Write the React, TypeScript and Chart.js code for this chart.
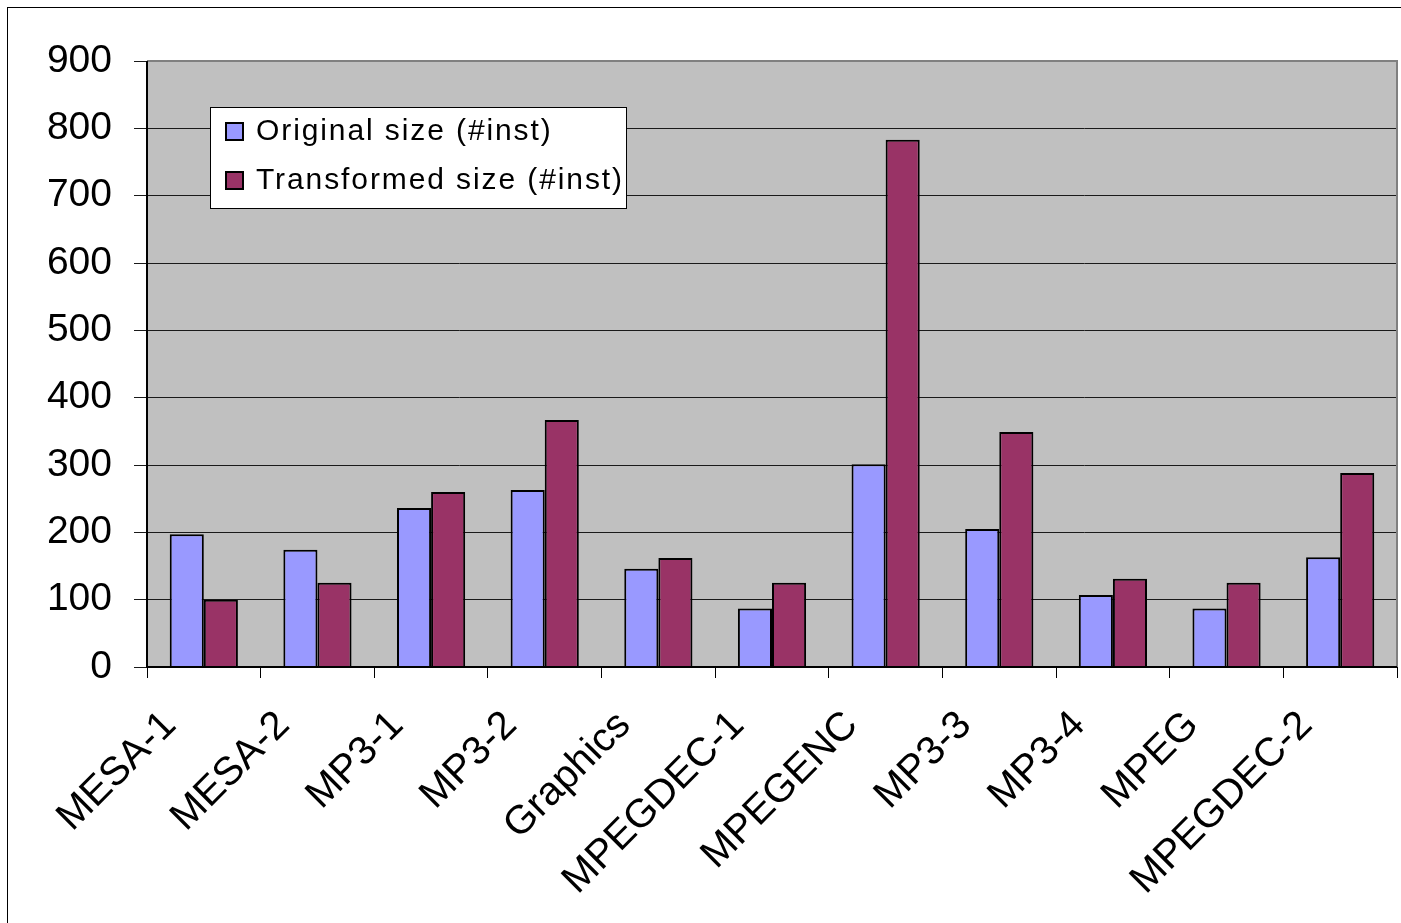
import React, { useEffect, useRef } from "react";
import { Chart, registerables } from "chart.js";

Chart.register(...registerables);

const categories = ["MESA-1", "MESA-2", "MP3-1", "MP3-2", "Graphics", "MPEGDEC-1", "MPEGENC", "MP3-3", "MP3-4", "MPEG", "MPEGDEC-2"];
const originalSize = [197, 174, 236, 263, 146, 87, 301, 205, 107, 87, 163];
const transformedSize = [100, 125, 260, 367, 162, 125, 783, 349, 131, 125, 288];
const seriesLabels = ["Original size (#inst)", "Transformed size (#inst)"];
const seriesColors = ["#9999FF", "#993366"];

const FONT = "'Liberation Sans', Arial, sans-serif";

const framePlugin = {
  id: "frame",
  beforeDraw(chart: any) {
    const { ctx, chartArea: a } = chart;
    ctx.save();
    ctx.fillStyle = "#ffffff";
    ctx.fillRect(0, 0, chart.width, chart.height);
    ctx.strokeStyle = "#000";
    ctx.lineWidth = 1;
    ctx.strokeRect(7.5, 7.5, 1400, 930);
    ctx.fillStyle = "#C0C0C0";
    ctx.fillRect(a.left, a.top, a.right - a.left, a.bottom - a.top);
    ctx.restore();
  },
  afterDatasetsDraw(chart: any) {
    const { ctx, chartArea: a } = chart;
    ctx.save();
    ctx.strokeStyle = "#808080";
    ctx.lineWidth = 2;
    ctx.beginPath();
    ctx.moveTo(a.left, a.top);
    ctx.lineTo(a.right, a.top);
    ctx.lineTo(a.right, a.bottom);
    ctx.stroke();
    ctx.strokeStyle = "#000";
    ctx.lineWidth = 2;
    ctx.beginPath();
    ctx.moveTo(a.left, a.top);
    ctx.lineTo(a.left, a.bottom);
    ctx.lineTo(a.right, a.bottom);
    ctx.stroke();
    ctx.restore();
  },
  afterDraw(chart: any) {
    const { ctx } = chart;
    const x = 210, y = 107, w = 416, h = 101;
    ctx.save();
    ctx.fillStyle = "#fff";
    ctx.fillRect(x, y, w, h);
    ctx.strokeStyle = "#000";
    ctx.lineWidth = 1;
    ctx.strokeRect(x + 0.5, y + 0.5, w, h);
    ctx.font = `30px ${FONT}`;
    (ctx as any).letterSpacing = "1.9px";
    ctx.textBaseline = "middle";
    ctx.textAlign = "left";
    chart.data.datasets.forEach((ds: any, i: number) => {
      const cy = y + 24 + i * 49;
      ctx.fillStyle = ds.backgroundColor;
      ctx.fillRect(226, cy - 8, 17, 17);
      ctx.strokeStyle = "#000";
      ctx.lineWidth = 2;
      ctx.strokeRect(226, cy - 8, 17, 17);
      ctx.fillStyle = "#000";
      ctx.fillText(ds.label, 256, cy + 1);
    });
    ctx.restore();
  },
};

export default function App() {
  const ref = useRef<HTMLCanvasElement>(null);
  useEffect(() => {
    document.body.style.margin = "0";
    const chart = new Chart(ref.current!, {
      type: "bar",
      data: {
        labels: categories,
        datasets: [
          { label: seriesLabels[0], data: originalSize, backgroundColor: seriesColors[0], borderColor: "#000", borderWidth: 2 },
          { label: seriesLabels[1], data: transformedSize, backgroundColor: seriesColors[1], borderColor: "#000", borderWidth: 2 },
        ],
      },
      options: {
        responsive: false,
        animation: false,
        layout: { padding: { left: 0, top: 61, right: 4, bottom: 0 } },
        datasets: { bar: { categoryPercentage: 0.6, barPercentage: 1.0 } },
        plugins: { legend: { display: false }, tooltip: { enabled: false } },
        scales: {
          x: {
            grid: { offset: true, drawOnChartArea: false, drawTicks: true, tickLength: 11, color: "#000", lineWidth: 1 },
            border: { display: false },
            ticks: {
              color: "#000",
              font: { family: FONT, size: 40 },
              minRotation: 45,
              maxRotation: 45,
              autoSkip: false,
              labelOffset: -34,
              padding: 24,
            },
            afterFit(scale: any) {
              scale.height = 256;
            },
          },
          y: {
            min: 0,
            max: 900,
            grid: { color: "#1a1a1a", lineWidth: 1, tickLength: 13 },
            border: { display: false },
            ticks: {
              stepSize: 100,
              color: "#000",
              font: { family: FONT, size: 39 },
              padding: 22,
            },
            afterFit(scale: any) {
              scale.width = 147;
            },
          },
        },
      },
      plugins: [framePlugin],
    });
    return () => chart.destroy();
  }, []);
  return (
    <div style={{ width: 1401, height: 923 }}>
      <canvas ref={ref} width={1401} height={923} style={{ display: "block" }} />
    </div>
  );
}
